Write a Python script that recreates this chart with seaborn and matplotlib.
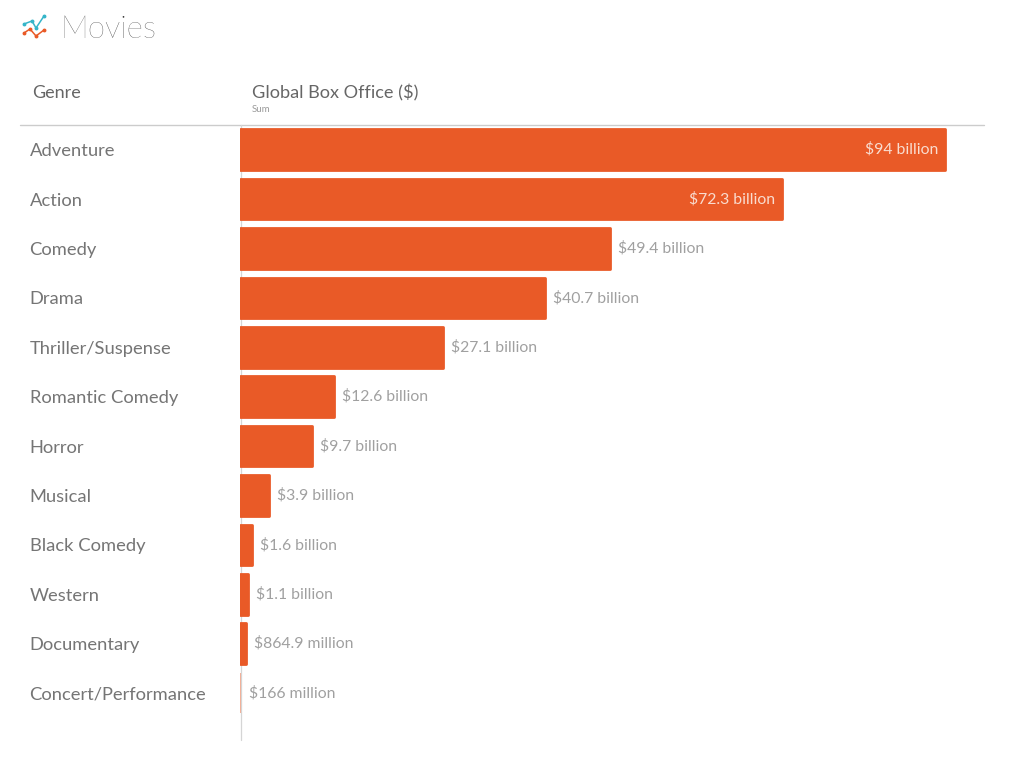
import matplotlib
matplotlib.use("Agg")
import matplotlib.pyplot as plt
import pandas
import seaborn

genres = ["Adventure", "Action", "Comedy", "Drama", "Thriller/Suspense", "Romantic Comedy",
          "Horror", "Musical", "Black Comedy", "Western", "Documentary", "Concert/Performance"]
box_office = [94.0, 72.3, 49.4, 40.7, 27.1, 12.6, 9.7, 3.9, 1.6, 1.1, 0.8649, 0.166]
value_labels = ["$94 billion", "$72.3 billion", "$49.4 billion", "$40.7 billion", "$27.1 billion",
                "$12.6 billion", "$9.7 billion", "$3.9 billion", "$1.6 billion", "$1.1 billion",
                "$864.9 million", "$166 million"]

WIDTH, HEIGHT = 1024, 760
ORANGE = "#e95a27"
FONT = "Lato"


def px(x, y):
    return x / WIDTH, 1 - y / HEIGHT


def main():
    seaborn.set_theme(style="white")
    plt.rcParams["font.family"] = [FONT, "DejaVu Sans"]
    df = pandas.DataFrame({"genre": genres, "box_office": box_office})

    fig = plt.figure(figsize=(WIDTH / 100, HEIGHT / 100), dpi=100)
    left, top = px(239.5, 125)
    ax = fig.add_axes([left, 0, 984 / WIDTH - left, top])
    ax.patch.set_visible(False)
    seaborn.barplot(data=df, y="genre", x="box_office", order=genres, color=ORANGE,
                    saturation=1, width=0.825, ax=ax)

    # round the corners with a thick round-joined edge
    for bar in ax.containers[0]:
        bar.set_edgecolor(ORANGE)
        bar.set_linewidth(2)
        bar.set_joinstyle("round")
    ax.containers[0][-1].set_linewidth(0)
    ax.containers[0][-1].set_alpha(0.45)

    ax.set_xlim(0, 744.5 / 7.51)
    ax.set_ylim((760 - 125) / 49.4 - 0.5, -0.5)
    ax.set_xlabel("")
    ax.set_ylabel("")
    ax.set_xticks([])
    for side in ax.spines:
        ax.spines[side].set_visible(False)

    ax.tick_params(axis="y", length=0, pad=151.2, labelsize=13.2, labelcolor="#757575")
    for label in ax.get_yticklabels():
        label.set_ha("left")

    for i, (value, text) in enumerate(zip(box_office, value_labels)):
        inside = i < 2
        ax.annotate(text, xy=(value, i), xytext=(-7 if inside else 8, 0),
                    textcoords="offset pixels",
                    ha="right" if inside else "left", va="center", fontsize=11.3,
                    color="#f9dccf" if inside else "#a0a0a0")

    # header rule and baseline, behind the bars
    x0, y0 = px(20, 125)
    x1, _ = px(984, 125)
    fig.add_artist(plt.Line2D([x0, x1], [y0, y0], color="#cccccc", lw=1, zorder=-1))
    bx, by0 = px(240.5, 125)
    _, by1 = px(240.5, 740)
    fig.add_artist(plt.Line2D([bx, bx], [by0, by1], color="#d5d5d5", lw=0.9, zorder=-1))

    x, y = px(60, 29)
    fig.text(x, y, "Movies", fontsize=22.5, fontweight="light", color="#333333", va="center")
    x, y = px(32, 93)
    fig.text(x, y, "Genre", fontsize=13, color="#666666", va="center")
    x, y = px(252, 93)
    fig.text(x, y, "Global Box Office ($)", fontsize=13.1, color="#666666", va="center")
    x, y = px(252, 110)
    fig.text(x, y, "Sum", fontsize=7, color="#999999", va="center")

    # logo in the corner
    for xs, ys, color in [([24, 32, 36, 44], [24, 21, 28, 16], "#35b5c9"),
                          ([24, 30, 36, 44], [33, 29, 36, 30], ORANGE)]:
        pts = [px(a, b) for a, b in zip(xs, ys)]
        fig.add_artist(plt.Line2D([p[0] for p in pts], [p[1] for p in pts], color=color, lw=1.1,
                                  marker="o", markersize=1.8))

    fig.savefig("out.png", dpi=100)


if __name__ == "__main__":
    main()
